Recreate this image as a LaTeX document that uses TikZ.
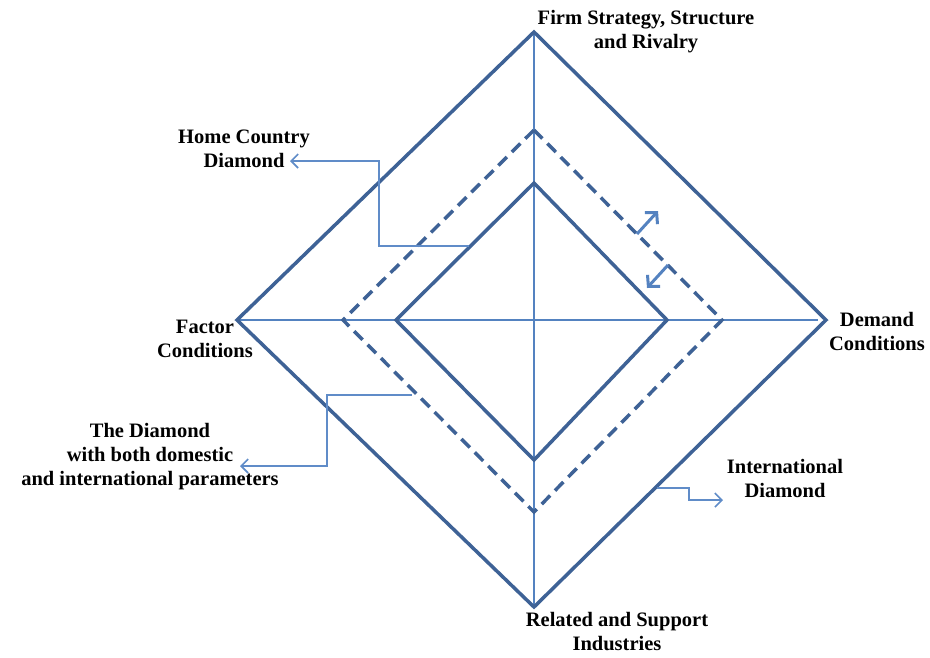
\documentclass[tikz,border=0pt]{standalone}
\usepackage{fontspec}
\setmainfont{Liberation Serif}
\usetikzlibrary{arrows.meta}
\definecolor{diacol}{RGB}{62,98,150}
\definecolor{axiscol}{RGB}{84,130,192}
\definecolor{callcol}{RGB}{96,140,200}
\begin{document}
\begin{tikzpicture}[x=1pt,y=-1pt,
  lbl/.style={font=\bfseries\fontsize{20.5}{24}\selectfont, align=center, inner sep=0pt},
  outerdia/.style={draw=diacol, line width=3.5pt, line join=miter},
  dasheddia/.style={draw=diacol, line width=3.5pt, dash pattern=on 12pt off 7pt, line join=miter},
  axisline/.style={draw=axiscol, line width=1.6pt},
  callout/.style={draw=callcol, line width=1.6pt, -{Straight Barb[length=7pt,width=14pt,line width=1.6pt]}},
  dblarrow/.style={draw=axiscol, line width=3pt, -{Straight Barb[length=8pt,width=17pt,line width=3pt]}}]
\useasboundingbox (0,0) rectangle (930,657);
% outer diamond
\coordinate (OT) at (534,32);
\coordinate (OL) at (237,320);
\coordinate (OR) at (826,320);
\coordinate (OB) at (534,607);
% dashed diamond
\coordinate (DT) at (534,130);
\coordinate (DL) at (343,320);
\coordinate (DR) at (722,320);
\coordinate (DB) at (534,512);
% inner diamond
\coordinate (IT) at (534,183);
\coordinate (IL) at (396,320);
\coordinate (IR) at (667,320);
\coordinate (IB) at (534,460);
% axes
\draw[axisline] (OT) -- (OB);
\draw[axisline] (OL) -- (818,320);
% diamonds
\draw[outerdia] (OT) -- (OR) -- (OB) -- (OL) -- cycle;
\draw[dasheddia] (DT) -- (DR) -- (DB) -- (DL) -- cycle;
\draw[outerdia] (IT) -- (IR) -- (IB) -- (IL) -- cycle;
% labels
\node[lbl] (firm) at (646,32) {Firm Strategy, Structure\\and Rivalry};
\node[lbl] (home) at (244,149) {Home Country\\Diamond};
\node[lbl] (factor) at (205,339) {Factor\\Conditions};
\node[lbl] (demand) at (877,331) {Demand\\Conditions};
\node[lbl] (both) at (150,457) {The Diamond\\with both domestic\\and international parameters};
\node[lbl] (intl) at (785,478) {International\\Diamond};
\node[lbl] (related) at (617,632) {Related and Support\\Industries};
% callout points
\coordinate (hcS) at (469,246);
\coordinate (hcT) at (290,161);
\coordinate (bdS) at (412,395);
\coordinate (bdT) at (240,466);
\coordinate (idS) at (657,488);
\coordinate (idT) at (723,500);
\draw[callout] (hcS) -- (379,246) -- (379,161) -- (hcT);
\draw[callout] (bdS) -- (327,395) -- (327,466) -- (bdT);
\draw[callout] (idS) -- (689,488) -- (689,500) -- (idT);
% double arrows
\coordinate (a1S) at (637,234);
\coordinate (a1T) at (658,211);
\coordinate (a2S) at (668,265);
\coordinate (a2T) at (647,288);
\draw[dblarrow] (a1S) -- (a1T);
\draw[dblarrow] (a2S) -- (a2T);
\end{tikzpicture}
\end{document}
